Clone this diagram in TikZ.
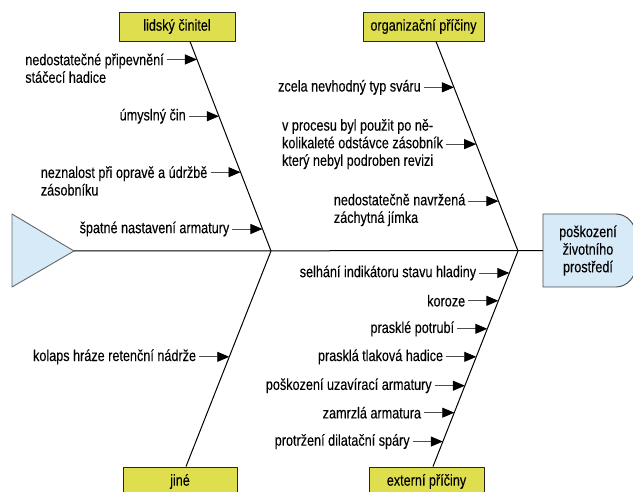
\documentclass[tikz,border=0pt]{standalone}
\usepackage{fontspec}
\setmainfont[FakeStretch=0.80, FakeBold=0.12]{Liberation Sans}
\usetikzlibrary{arrows.meta,positioning,calc}
\definecolor{kostY}{RGB}{222,222,78}
\definecolor{kostB}{RGB}{214,234,248}

\begin{document}
\begin{tikzpicture}[x=1pt, y=-1pt, line join=round, font=\fontsize{15.8}{17.6}\selectfont,
    kost/.style={line width=1pt},
    kategorie/.style={draw=black!85, line width=0.9pt, fill=kostY, minimum height=29pt, inner sep=0pt},
    pricina/.style={inner xsep=3pt, inner ysep=0pt, align=left},
    sipka/.style={draw=black!70, line width=0.9pt, -{Triangle[black, length=12pt, width=10pt]}}]
  \useasboundingbox (0,0) rectangle (633,492);

  % kategorie příčin
  \node[kategorie, minimum width=116pt] (lid) at (177,26.5) {lidský činitel};
  \node[kategorie, minimum width=121pt] (org) at (423.5,26.5) {organizační příčiny};
  \node[kategorie, minimum width=114pt] (jin) at (180,481.5) {jiné};
  \node[kategorie, minimum width=115pt] (ext) at (426.5,481.5) {externí příčiny};

  % následek (hlava ryby)
  \filldraw[fill=kostB, draw=black!70, line width=0.9pt] (543,214) -- (616,214)
    .. controls (627,214) and (636,224) .. (636,236) -- (636,265)
    .. controls (636,277) and (627,287) .. (616,287) -- (543,287) -- cycle;
  \node[align=center, minimum width=90pt, minimum height=73pt, inner sep=0pt] (nasl) at (588,250.5) {poškození\\životního\\prostředí};

  % ocas a páteř
  \filldraw[fill=kostB, draw=black!60, line width=0.9pt] (12,214) -- (74,251) coordinate (ocas) -- (12,287) -- cycle;
  \draw[kost] (ocas) -- (nasl);
  \coordinate (J1) at (271,251);
  \coordinate (J2) at (518,251);

  % hlavní kosti
  \draw[kost] ([xshift=13pt]lid.south) -- (J1)
    coordinate[pos=0.086] (a1) coordinate[pos=0.357] (a2)
    coordinate[pos=0.624] (a3) coordinate[pos=0.895] (a4);
  \draw[kost] ([xshift=12.5pt]org.south) -- (J2)
    coordinate[pos=0.219] (b1) coordinate[pos=0.490] (b2) coordinate[pos=0.762] (b3);
  \draw[kost] (J1) -- ([xshift=6pt]jin.north)
    coordinate[pos=0.491] (c1);
  \draw[kost] (J2) -- ([xshift=6.5pt]ext.north)
    coordinate[pos=0.102] (d1) coordinate[pos=0.231] (d2) coordinate[pos=0.361] (d3)
    coordinate[pos=0.491] (d4) coordinate[pos=0.625] (d5) coordinate[pos=0.750] (d6)
    coordinate[pos=0.884] (d7);

  % lidský činitel
  \node[pricina, anchor=east] (pa1) at ($(a1)+(-30,8.8)$) {nedostatečné připevnění\\stáčecí hadice};
  \draw[sipka] (pa1.east |- a1) -- (a1);
  \node[pricina, anchor=east] (pa2) at ($(a2)+(-30,0)$) {úmyslný čin};
  \draw[sipka] (pa2) -- (a2);
  \node[pricina, anchor=east] (pa3) at ($(a3)+(-30,8.8)$) {neznalost při opravě a údržbě\\zásobníku};
  \draw[sipka] (pa3.east |- a3) -- (a3);
  \node[pricina, anchor=east] (pa4) at ($(a4)+(-30,0)$) {špatné nastavení armatury};
  \draw[sipka] (pa4) -- (a4);

  % organizační příčiny
  \node[pricina, anchor=east] (pb1) at ($(b1)+(-30,0)$) {zcela nevhodný typ sváru};
  \draw[sipka] (pb1) -- (b1);
  \node[pricina, anchor=east] (pb2) at ($(b2)+(-30,0)$) {v procesu byl použit po ně-\\kolikaleté odstávce zásobník\\který nebyl podroben revizi};
  \draw[sipka] (pb2) -- (b2);
  \node[pricina, anchor=east] (pb3) at ($(b3)+(-30,8.8)$) {nedostatečně navržená\\záchytná jímka};
  \draw[sipka] (pb3.east |- b3) -- (b3);

  % jiné
  \node[pricina, anchor=east] (pc1) at ($(c1)+(-30,0)$) {kolaps hráze retenční nádrže};
  \draw[sipka] (pc1) -- (c1);

  % externí příčiny
  \node[pricina, anchor=east] (pd1) at ($(d1)+(-30,0)$) {selhání indikátoru stavu hladiny};
  \draw[sipka] (pd1) -- (d1);
  \node[pricina, anchor=east] (pd2) at ($(d2)+(-30,0)$) {koroze};
  \draw[sipka] (pd2) -- (d2);
  \node[pricina, anchor=east] (pd3) at ($(d3)+(-30,0)$) {prasklé potrubí};
  \draw[sipka] (pd3) -- (d3);
  \node[pricina, anchor=east] (pd4) at ($(d4)+(-30,0)$) {prasklá tlaková hadice};
  \draw[sipka] (pd4) -- (d4);
  \node[pricina, anchor=east] (pd5) at ($(d5)+(-30,0)$) {poškození uzavírací armatury};
  \draw[sipka] (pd5) -- (d5);
  \node[pricina, anchor=east] (pd6) at ($(d6)+(-30,0)$) {zamrzlá armatura};
  \draw[sipka] (pd6) -- (d6);
  \node[pricina, anchor=east] (pd7) at ($(d7)+(-30,0)$) {protržení dilatační spáry};
  \draw[sipka] (pd7) -- (d7);
\end{tikzpicture}
\end{document}
